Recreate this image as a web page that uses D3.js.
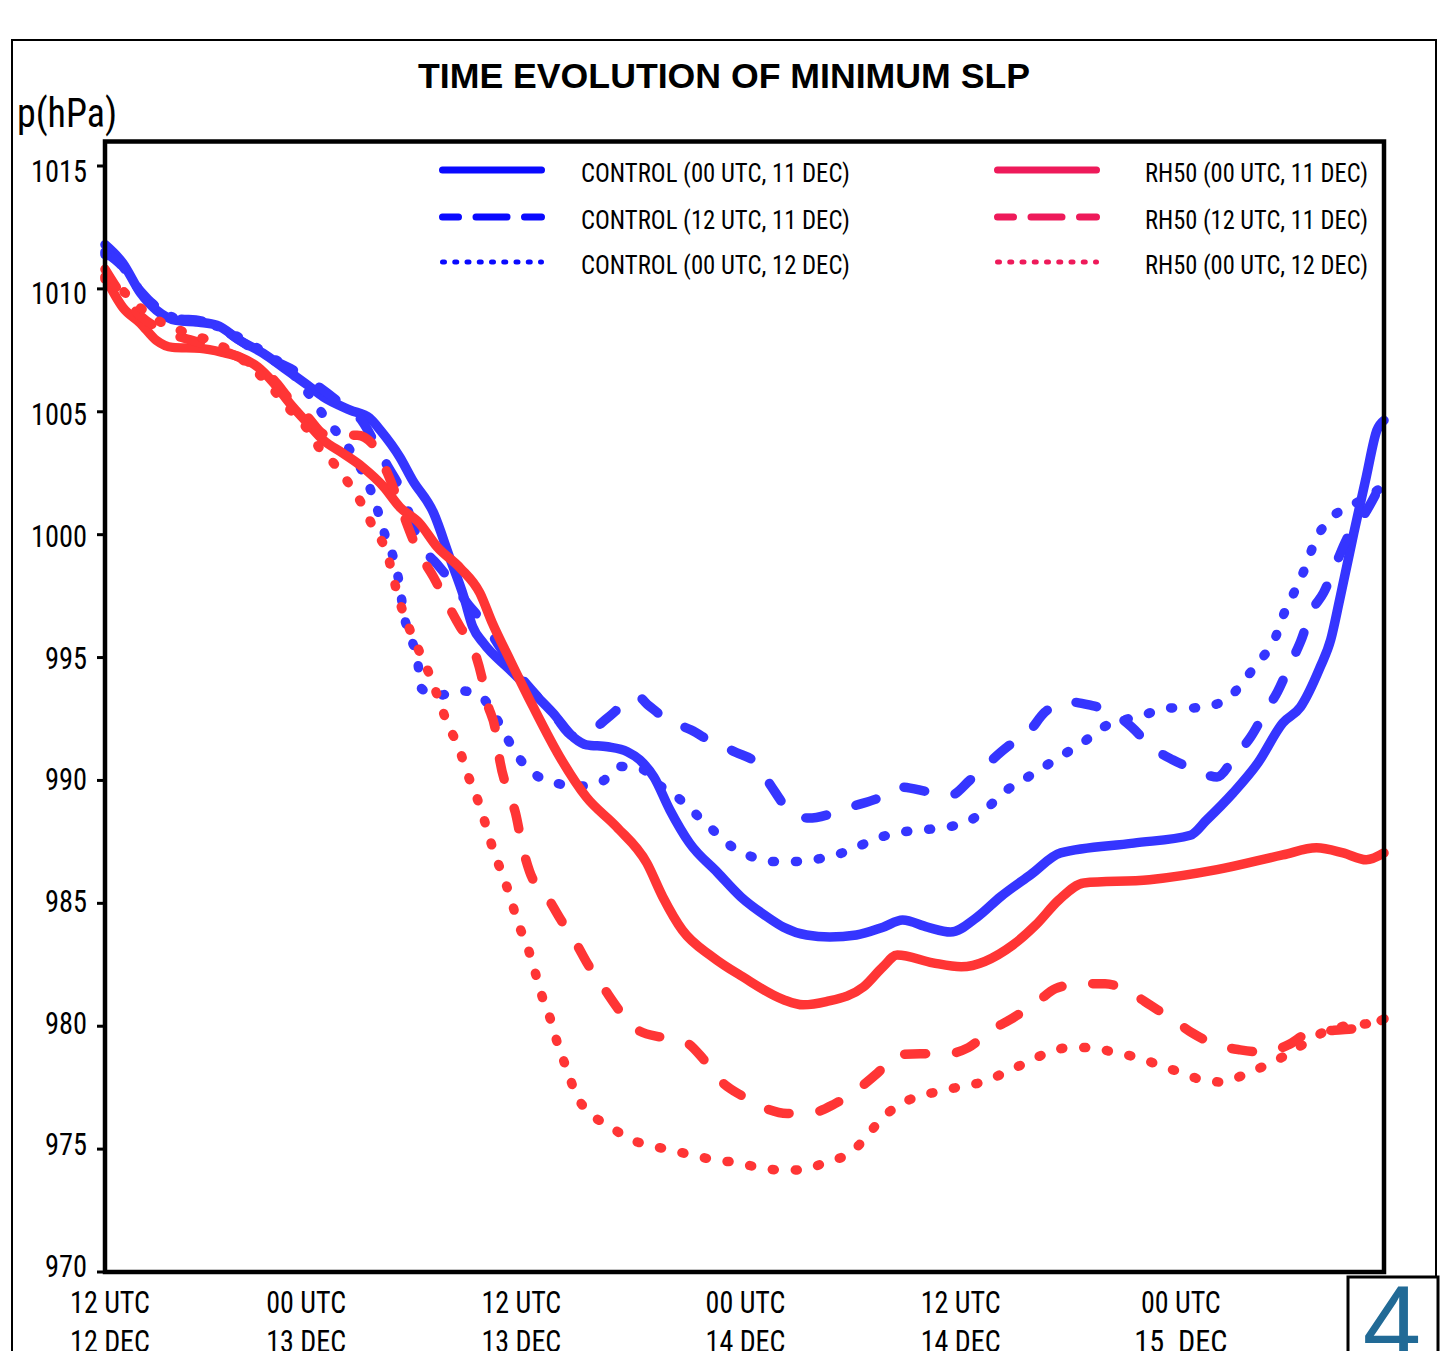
<!DOCTYPE html>
<html>
<head>
<meta charset="utf-8">
<script src="https://cdn.jsdelivr.net/npm/d3@7"></script>
<style>
  html, body { margin: 0; padding: 0; background: #fff; }
  svg { display: block; }
</style>
</head>
<body>
<div id="chart"></div>
<script>
// ---------------- DATA (hours after 12 UTC 12 DEC, minimum SLP in hPa) ----------------
const yTicks = [970, 975, 980, 985, 990, 995, 1000, 1005, 1010, 1015];
const xTickHours = [0, 12, 24, 36, 48, 60];
const xTickLine1 = ["12 UTC", "00 UTC", "12 UTC", "00 UTC", "12 UTC", "00 UTC"];
const xTickLine2 = ["12 DEC", "13 DEC", "13 DEC", "14 DEC", "14 DEC", "15  DEC"];

const seriesNames = [
  "CONTROL (00 UTC, 11 DEC)", "CONTROL (12 UTC, 11 DEC)", "CONTROL (00 UTC, 12 DEC)",
  "RH50 (00 UTC, 11 DEC)", "RH50 (12 UTC, 11 DEC)", "RH50 (00 UTC, 12 DEC)"
];

const ctl00Hours = [0, 1.0, 2.0, 2.9, 4.0, 5.3, 6.3, 7.6, 8.9, 10.0, 11.4, 12.3, 13.8, 14.9, 15.5, 16.6, 17.3, 18.5, 19.4, 20.2, 20.7, 21.3, 22.8, 24.1, 25.2, 26.4, 27.1, 28.3, 29.4, 30.1, 30.9, 31.8, 32.9, 34.5, 35.8, 37.3, 38.2, 39.5, 40.8, 42.3, 43.8, 44.9, 46.3, 47.6, 49.1, 50.4, 52.1, 53.8, 57.9, 61.1, 62.0, 63.5, 64.9, 66.3, 67.3, 68.4, 69.0, 69.5, 70.3, 71.0, 71.6, 72];
const ctl00Slp = [1011.8, 1011.05, 1009.83, 1009.13, 1008.72, 1008.64, 1008.52, 1007.9, 1007.38, 1006.82, 1006.09, 1005.6, 1005.07, 1004.74, 1004.25, 1003.15, 1002.23, 1000.88, 999.08, 997.47, 996.25, 995.59, 994.5, 993.57, 992.76, 991.74, 991.45, 991.37, 991.17, 990.84, 990.14, 988.8, 987.46, 986.24, 985.26, 984.44, 984.03, 983.71, 983.63, 983.71, 984.03, 984.32, 984.03, 983.83, 984.44, 985.26, 986.16, 987.05, 987.45, 987.77, 988.38, 989.49, 990.71, 992.34, 992.99, 994.6, 995.72, 997.34, 1000.07, 1002.35, 1004.25, 1004.65];

const ctl12Hours = [0, 1.0, 2.0, 3.0, 4.0, 5.4, 6.3, 7.6, 8.9, 10.6, 12.1, 13.5, 14.5, 15.1, 15.9, 16.6, 17.2, 17.7, 18.7, 19.6, 20.4, 21.5, 22.2, 23.2, 24.3, 25.3, 26.4, 27.1, 28.3, 29.4, 30.0, 30.6, 31.7, 33.0, 34.2, 35.5, 36.7, 37.5, 38.4, 39.6, 41.0, 42.2, 43.5, 44.8, 46.4, 47.6, 48.7, 50.8, 52.0, 52.9, 54.2, 55.4, 56.7, 57.8, 58.9, 60.1, 61.4, 62.6, 63.6, 64.5, 65.3, 66.0, 66.7, 67.3, 67.9, 68.6, 69.3, 69.9, 70.8, 72];
const ctl12Slp = [1011.5, 1010.9, 1009.9, 1009.2, 1008.8, 1008.7, 1008.5, 1007.9, 1007.3, 1006.7, 1005.98, 1005.2, 1004.6, 1003.85, 1002.8, 1001.9, 1000.7, 999.7, 998.8, 998.0, 997.2, 996.25, 995.45, 994.4, 993.45, 992.65, 991.8, 991.9, 992.55, 993.2, 993.4, 993.05, 992.45, 992.05, 991.55, 991.15, 990.67, 989.77, 988.87, 988.47, 988.67, 988.97, 989.27, 989.73, 989.53, 989.4, 990.02, 991.37, 991.97, 992.77, 993.2, 993.07, 992.77, 992.17, 991.37, 990.84, 990.43, 990.14, 990.97, 991.77, 992.77, 993.6, 994.7, 995.64, 996.84, 997.64, 998.82, 999.82, 1000.71, 1002.3];

const ctl0012Hours = [0, 1.0, 2.0, 3.0, 4.0, 5.3, 6.6, 7.6, 9.0, 10.5, 11.7, 12.5, 13.4, 14.2, 14.8, 15.3, 15.8, 16.3, 16.6, 16.8, 17.2, 17.6, 17.8, 18.7, 20.0, 21.1, 22.0, 22.6, 23.4, 24.3, 25.5, 26.7, 28.0, 29.0, 30.2, 31.1, 32.3, 33.2, 34.2, 35.3, 36.4, 37.6, 38.9, 40.1, 41.3, 42.5, 43.7, 44.9, 46.2, 47.4, 48.7, 49.8, 50.7, 51.8, 52.9, 54.0, 55.1, 56.2, 57.4, 58.5, 59.8, 61.1, 62.3, 63.4, 64.3, 65.1, 65.9, 66.4, 67.0, 67.6, 68.1, 68.9, 69.9, 71.0, 72];
const ctl0012Slp = [1011.4, 1010.9, 1009.9, 1009.2, 1008.8, 1008.65, 1008.4, 1008.0, 1007.4, 1006.6, 1005.5, 1004.65, 1003.85, 1002.95, 1002.1, 1001.1, 999.9, 998.9, 997.88, 996.84, 995.84, 994.84, 993.75, 993.45, 993.65, 993.45, 992.57, 991.77, 990.83, 990.2, 989.87, 989.77, 989.97, 990.57, 990.47, 989.87, 989.27, 988.67, 988.0, 987.3, 986.9, 986.7, 986.7, 986.8, 987.0, 987.35, 987.7, 987.9, 988.0, 988.1, 988.37, 988.97, 989.57, 990.07, 990.57, 991.07, 991.57, 992.17, 992.47, 992.67, 992.95, 992.95, 993.05, 993.45, 994.24, 994.94, 995.84, 996.84, 997.74, 998.72, 999.7, 1000.6, 1001.1, 1001.5, 1002.0];

const rh00Hours = [0, 1.0, 2.0, 2.9, 3.8, 5.35, 6.6, 7.6, 8.6, 9.5, 10.4, 11.4, 12.3, 13.4, 14.5, 15.7, 16.6, 17.7, 18.7, 20.0, 21.1, 21.8, 22.8, 24.1, 25.6, 27.1, 28.8, 30.5, 31.4, 32.5, 34.2, 35.9, 38.2, 39.3, 40.6, 42.7, 43.8, 44.6, 46.6, 48.2, 51.1, 52.4, 53.7, 55.1, 58.8, 62.6, 66.3, 68.2, 69.7, 71.0, 72];
const rh00Slp = [1010.5, 1009.25, 1008.6, 1007.9, 1007.62, 1007.58, 1007.42, 1007.22, 1006.82, 1006.17, 1005.35, 1004.54, 1003.84, 1003.31, 1002.75, 1001.94, 1001.12, 1000.47, 999.5, 998.64, 997.63, 996.41, 994.9, 993.0, 990.96, 989.32, 988.11, 986.64, 985.26, 983.91, 982.82, 982.01, 981.08, 980.87, 981.0, 981.6, 982.42, 982.9, 982.58, 982.42, 983.3, 984.12, 985.14, 985.83, 985.96, 986.37, 986.97, 987.26, 987.05, 986.77, 987.05];

const rh12Hours = [0, 1.0, 2.0, 3.0, 4.0, 5.4, 6.6, 7.6, 8.6, 9.5, 10.4, 11.4, 12.3, 12.6, 14.2, 15.1, 15.9, 16.6, 17.6, 18.5, 19.1, 20.0, 20.7, 21.2, 21.5, 22.0, 22.2, 22.7, 23.1, 23.5, 23.9, 24.9, 25.6, 26.5, 27.2, 28.1, 29.0, 30.0, 31.4, 32.7, 33.7, 34.7, 35.9, 37.2, 38.4, 39.9, 41.1, 42.4, 43.5, 44.6, 45.9, 47.4, 48.6, 49.9, 51.1, 52.5, 53.5, 54.9, 56.3, 57.8, 58.9, 60.2, 61.2, 62.6, 63.9, 65.3, 66.6, 67.8, 69.2, 70.8, 72];
const rh12Slp = [1010.8, 1009.7, 1008.9, 1008.4, 1008.1, 1007.8, 1007.5, 1007.2, 1006.8, 1006.3, 1005.5, 1004.8, 1004.1, 1004.05, 1004.05, 1003.65, 1002.5, 1001.2, 999.37, 998.27, 997.43, 996.24, 995.44, 994.24, 993.2, 991.97, 990.93, 989.53, 988.7, 987.3, 986.3, 985.26, 984.4, 983.4, 982.5, 981.53, 980.6, 979.84, 979.54, 979.34, 978.65, 977.75, 977.15, 976.65, 976.45, 976.5, 976.85, 977.45, 978.1, 978.84, 978.88, 978.88, 979.13, 979.84, 980.33, 981.0, 981.53, 981.73, 981.73, 981.33, 980.83, 980.23, 979.73, 979.24, 979.04, 978.94, 979.24, 979.73, 979.84, 979.94, 980.3];

const rh0012Hours = [0, 0.8, 1.8, 2.9, 4.0, 5.2, 6.3, 8.6, 9.5, 10.3, 11.2, 12.1, 13.0, 13.8, 14.5, 15.1, 15.8, 16.6, 17.1, 17.7, 18.3, 18.8, 19.3, 19.9, 20.4, 20.9, 21.4, 21.8, 22.3, 22.8, 23.2, 23.8, 24.2, 24.6, 25.1, 25.5, 26.0, 26.5, 27.3, 28.4, 29.4, 30.7, 31.9, 33.1, 34.4, 35.6, 36.8, 38.1, 39.3, 40.5, 41.7, 42.7, 43.6, 44.6, 45.8, 47.0, 48.2, 49.5, 50.7, 51.9, 53.1, 54.3, 55.6, 56.8, 58.1, 59.3, 60.5, 61.7, 62.9, 64.2, 65.4, 66.5, 67.6, 68.8, 70.0, 71.3, 72];
const rh0012Slp = [1010.4, 1010.05, 1009.35, 1008.75, 1008.37, 1008.07, 1007.77, 1006.58, 1005.88, 1005.18, 1004.48, 1003.5, 1002.8, 1002.0, 1001.2, 1000.3, 999.4, 997.24, 996.24, 995.24, 994.25, 993.27, 992.27, 991.37, 990.27, 989.37, 988.27, 987.3, 986.3, 985.3, 984.3, 983.2, 982.23, 981.23, 980.23, 979.24, 978.25, 977.25, 976.45, 975.95, 975.45, 975.15, 974.95, 974.75, 974.55, 974.45, 974.25, 974.15, 974.15, 974.45, 974.75, 975.35, 976.15, 976.75, 977.15, 977.35, 977.55, 977.75, 978.13, 978.53, 978.93, 979.13, 979.13, 978.93, 978.73, 978.43, 978.13, 977.83, 977.73, 978.05, 978.43, 978.83, 979.33, 979.83, 980.03, 980.13, 980.43];

// ---------------- LAYOUT / STYLE ----------------
const W = 1446, H = 1351;
const plot = { left: 105, right: 1384, top: 141.5, bottom: 1272 };
const BLUE = "#3535ff", RED = "#ff3535";
const LEG_BLUE = "#0a0aff", LEG_RED = "#ee1a5a";
const condensed = "'Liberation Sans Narrow', 'Roboto Condensed', 'Liberation Sans', Arial, sans-serif";
// horizontal nudges of the hand-placed time labels in the original figure (px)
const xLabelNudge = [5, -12, -10, 1, 3, 10];

const x = d3.scaleLinear().domain([0, 72]).range([plot.left, plot.right]);
const y = d3.scaleLinear().domain([970, 1015]).range([1272, 166]);
const yLabel = d3.scaleLinear().domain([970, 1015]).range([1266, 171]);

const svg = d3.select("#chart").append("svg")
  .attr("width", W).attr("height", H)
  .attr("viewBox", `0 0 ${W} ${H}`);

svg.append("rect").attr("width", W).attr("height", H).attr("fill", "#fff");

// outer frame
svg.append("path")
  .attr("d", `M12,${H} V40 H1436 V1277`)
  .attr("fill", "none").attr("stroke", "#000").attr("stroke-width", 2);

// title
svg.append("text")
  .attr("x", 724).attr("y", 88)
  .attr("text-anchor", "middle")
  .attr("font-family", "'Liberation Sans', Arial, sans-serif")
  .attr("font-weight", "bold").attr("font-size", 35)
  .attr("textLength", 612).attr("lengthAdjust", "spacingAndGlyphs")
  .text("TIME EVOLUTION OF MINIMUM SLP");

// y-axis title
svg.append("text")
  .attr("x", 17).attr("y", 127)
  .attr("font-family", condensed).attr("font-size", 40)
  .attr("textLength", 100).attr("lengthAdjust", "spacingAndGlyphs")
  .text("p(hPa)");

// y ticks & labels
const yg = svg.append("g");
yg.selectAll("line").data(yTicks).join("line")
  .attr("x1", plot.left - 8).attr("x2", plot.left)
  .attr("y1", d => y(d)).attr("y2", d => y(d))
  .attr("stroke", "#000").attr("stroke-width", 3);
yg.selectAll("text").data(yTicks).join("text")
  .attr("x", 87).attr("y", d => yLabel(d) + 11)
  .attr("text-anchor", "end")
  .attr("font-family", condensed).attr("font-size", 31)
  .attr("textLength", d => String(d).length * 14).attr("lengthAdjust", "spacingAndGlyphs")
  .text(d => d);

// x labels (two lines; the second line is cut by the page edge as in the original)
const xg = svg.append("g");
xg.selectAll("text.l1").data(xTickHours).join("text").attr("class", "l1")
  .attr("x", (d, i) => x(d) + xLabelNudge[i]).attr("y", 1313)
  .attr("text-anchor", "middle")
  .attr("font-family", condensed).attr("font-size", 32)
  .attr("textLength", (d, i) => xTickLine1[i].length * 13.3).attr("lengthAdjust", "spacingAndGlyphs")
  .text((d, i) => xTickLine1[i]);
xg.selectAll("text.l2").data(xTickHours).join("text").attr("class", "l2")
  .attr("x", (d, i) => x(d) + xLabelNudge[i]).attr("y", 1352)
  .attr("text-anchor", "middle")
  .attr("font-family", condensed).attr("font-size", 32)
  .attr("textLength", (d, i) => xTickLine2[i].length * 13.3).attr("lengthAdjust", "spacingAndGlyphs")
  .attr("xml:space", "preserve")
  .style("white-space", "pre")
  .text((d, i) => xTickLine2[i]);

// series
const series = [
  { name: seriesNames[0], hours: ctl00Hours, slp: ctl00Slp, color: BLUE, dash: null },
  { name: seriesNames[1], hours: ctl12Hours, slp: ctl12Slp, color: BLUE, dash: "21 31" },
  { name: seriesNames[2], hours: ctl0012Hours, slp: ctl0012Slp, color: BLUE, dash: "2 21" },
  { name: seriesNames[3], hours: rh00Hours, slp: rh00Slp, color: RED, dash: null },
  { name: seriesNames[4], hours: rh12Hours, slp: rh12Slp, color: RED, dash: "21 31" },
  { name: seriesNames[5], hours: rh0012Hours, slp: rh0012Slp, color: RED, dash: "2 21" }
];

const line = d3.line()
  .x(d => x(d[0])).y(d => y(d[1]))
  .curve(d3.curveMonotoneX);

svg.append("g").selectAll("path").data(series).join("path")
  .attr("d", s => line(s.hours.map((h, i) => [h, s.slp[i]])))
  .attr("fill", "none")
  .attr("stroke", s => s.color)
  .attr("stroke-width", 9.5)
  .attr("stroke-linecap", "round")
  .attr("stroke-linejoin", "round")
  .attr("stroke-dasharray", s => s.dash);

// plot frame
svg.append("rect")
  .attr("x", plot.left).attr("y", plot.top)
  .attr("width", plot.right - plot.left).attr("height", plot.bottom - plot.top)
  .attr("fill", "none").attr("stroke", "#000").attr("stroke-width", 4.5);

// legend
const legRows = [170, 217, 262];
const legCols = [
  { x0: 442.5, x1: 541.5, tx: 581, tw: 269, color: LEG_BLUE },
  { x0: 997.5, x1: 1096.5, tx: 1145, tw: 223, color: LEG_RED }
];
const legStyles = [
  { w: 7, dash: null, off: 0 },
  { w: 7, dash: "31 17.5", off: 15 },
  { w: 5, dash: "2 10.25", off: 0 }
];
const lg = svg.append("g");
series.forEach((s, i) => {
  const col = legCols[Math.floor(i / 3)];
  const st = legStyles[i % 3];
  const ry = legRows[i % 3];
  lg.append("line")
    .attr("x1", col.x0).attr("x2", col.x1)
    .attr("y1", ry).attr("y2", ry)
    .attr("stroke", col.color).attr("stroke-width", st.w)
    .attr("stroke-linecap", "round")
    .attr("stroke-dasharray", st.dash)
    .attr("stroke-dashoffset", st.off);
  lg.append("text")
    .attr("x", col.tx).attr("y", ry + 12)
    .attr("font-family", condensed).attr("font-size", 26)
    .attr("textLength", col.tw).attr("lengthAdjust", "spacingAndGlyphs")
    .text(s.name);
});

// page number box
svg.append("rect")
  .attr("x", 1348).attr("y", 1277).attr("width", 90).attr("height", 100)
  .attr("fill", "#fff").attr("stroke", "#000").attr("stroke-width", 3);
svg.append("text")
  .attr("x", 1392).attr("y", 1360)
  .attr("text-anchor", "middle")
  .attr("font-family", "'Liberation Sans', Arial, sans-serif")
  .attr("font-size", 105).attr("fill", "#216a96")
  .text("4");
</script>
</body>
</html>
